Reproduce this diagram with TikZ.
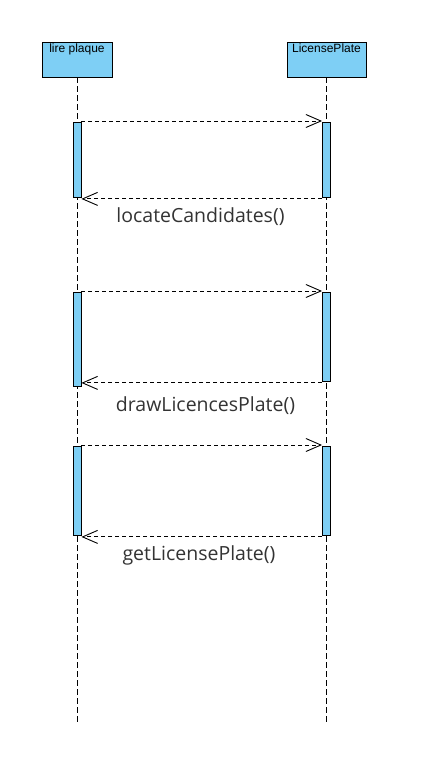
\documentclass[tikz,border=0pt]{standalone}
\usepackage{fontspec}
\setmainfont{Open Sans}
\newfontfamily\boxfont{Liberation Sans}
\usetikzlibrary{arrows.meta}
\definecolor{lifeblue}{RGB}{126,207,245}
\definecolor{msgtext}{RGB}{51,51,51}
\tikzset{
	head/.style={draw, fill=lifeblue, minimum width=70pt, minimum height=35pt, inner sep=0pt},
	headtext/.style={font=\boxfont\fontsize{12}{14}\selectfont, anchor=north, inner sep=0pt},
	bar/.style={draw, fill=lifeblue, minimum width=8pt, inner sep=0pt, anchor=north},
	lifeline/.style={dash pattern=on 6pt off 3pt},
	msg/.style={dash pattern=on 4pt off 3pt, -{Straight Barb[length=15pt, width=13pt]}},
	msglabel/.style={text=msgtext, font=\fontsize{19.5}{23}\selectfont, inner sep=0pt}
}

\begin{document}
\begin{tikzpicture}[x=1pt, y=-1pt, line width=0.9pt]
		\useasboundingbox (0, 0) rectangle (426, 782);
		% Lifelines:
		\node[head] (lire) at (77, 59.5){};
		\node[headtext] (lireT) at (77, 43){lire plaque};
		\node[head, minimum width=79pt] (plate) at (326.5, 59.5){};
		\node[headtext] (plateT) at (326.5, 43){LicensePlate};
		\coordinate (lireEnd) at (77, 722);
		\coordinate (plateEnd) at (326.5, 722);
		\draw[lifeline] (lire.south) -- (lireEnd);
		\draw[lifeline] (plate.south) -- (plateEnd);
		% Activations:
		\node[bar, minimum height=75pt] (a1) at (77, 122){};
		\node[bar, minimum height=75pt] (b1) at (326.5, 122){};
		\node[bar, minimum height=94pt] (a2) at (77, 292){};
		\node[bar, minimum height=89pt] (b2) at (326.5, 292){};
		\node[bar, minimum height=89pt] (a3) at (77, 446){};
		\node[bar, minimum height=89pt] (b3) at (326.5, 446){};
		% Messages:
		\draw[msg] ([yshift=1pt]a1.north east) -- ([yshift=1pt]b1.north west);
		\draw[msg] ([yshift=-1pt]b1.south west) -- ([yshift=-1pt]a1.south east);
		\draw[msg] ([yshift=1pt]a2.north east) -- ([yshift=1pt]b2.north west);
		\draw[msg] ([yshift=-1pt]b2.south west) -- ([yshift=-1pt]b2.south west -| a2.east);
		\draw[msg] ([yshift=1pt]a3.north east) -- ([yshift=1pt]b3.north west);
		\draw[msg] ([yshift=-1pt]b3.south west) -- ([yshift=-1pt]a3.south east);
		\node[msglabel] (m1) at (200.5, 217){locateCandidates()};
		\node[msglabel] (m2) at (205.5, 406){drawLicencesPlate()};
		\node[msglabel] (m3) at (199, 555){getLicensePlate()};
	\end{tikzpicture}
\end{document}
